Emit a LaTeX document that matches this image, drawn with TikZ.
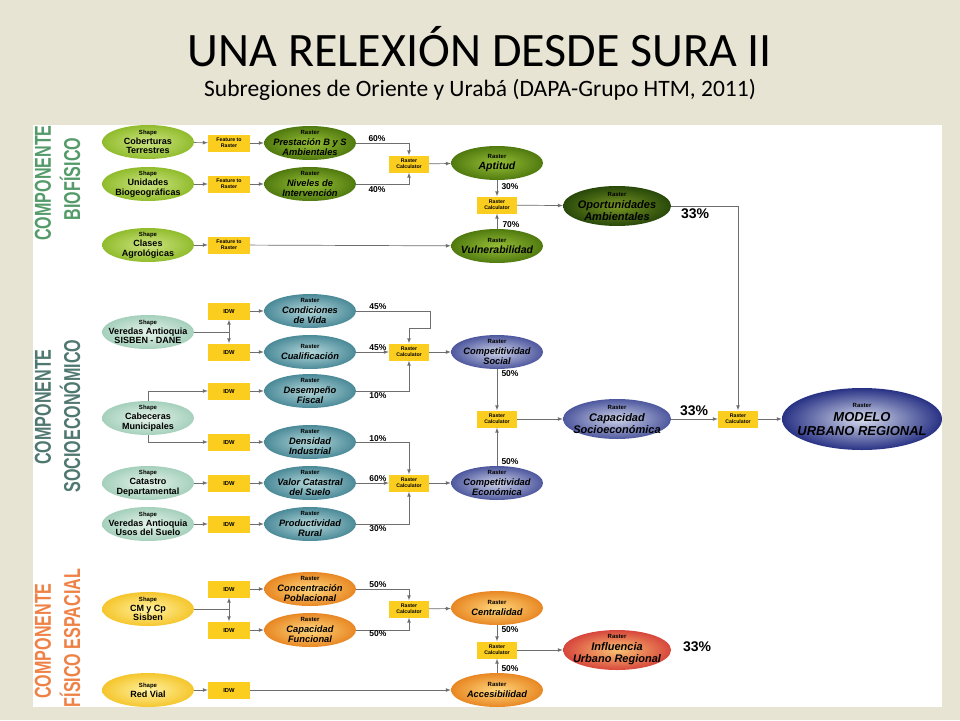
\documentclass[tikz,border=0pt]{standalone}
\usepackage{fontspec}
\setmainfont{Liberation Sans}
\newfontfamily\titlefont{Carlito}
\newfontfamily\narrowfont[FakeStretch=0.7]{Liberation Sans}
\usepackage{tikz}
\usetikzlibrary{positioning,arrows,shapes.geometric}

\definecolor{fondo}{RGB}{232,228,212}
\definecolor{caja}{RGB}{250,205,30}
\definecolor{linea}{RGB}{110,110,110}
\definecolor{bioTxt}{RGB}{85,155,105}
\definecolor{socTxt}{RGB}{80,120,112}
\definecolor{fisTxt}{RGB}{238,130,70}

\newcommand{\shp}[1]{{\fontsize{6}{6.5}\selectfont Shape}\\#1}
\newcommand{\ras}[1]{{\upshape\fontsize{6}{6.5}\selectfont Raster}\\#1}

\begin{document}
\begin{tikzpicture}[x=1pt,y=-1pt,
	oval/.style={ellipse,minimum width=92pt,minimum height=34pt,inner xsep=-20pt,inner ysep=-7pt,align=center,
		font=\bfseries\fontsize{9}{9.8}\selectfont},
	rfont/.style={font=\bfseries\itshape\fontsize{9.3}{10.2}\selectfont},
	gshp/.style={oval,shading=radial,inner color={rgb,255:red,205;green,228;blue,130},outer color={rgb,255:red,145;green,188;blue,45}},
	gras/.style={oval,rfont,shading=radial,inner color={rgb,255:red,150;green,190;blue,55},outer color={rgb,255:red,80;green,122;blue,15}},
	tshp/.style={oval,shading=radial,inner color={rgb,255:red,230;green,243;blue,234},outer color={rgb,255:red,165;green,208;blue,188}},
	tras/.style={oval,rfont,shading=radial,inner color={rgb,255:red,180;green,215;blue,218},outer color={rgb,255:red,75;green,138;blue,152}},
	bras/.style={oval,rfont,shading=radial,inner color={rgb,255:red,205;green,210;blue,232},outer color={rgb,255:red,78;green,88;blue,158}},
	oshp/.style={oval,shading=radial,inner color={rgb,255:red,255;green,242;blue,160},outer color={rgb,255:red,245;green,198;blue,45}},
	oras/.style={oval,rfont,shading=radial,inner color={rgb,255:red,255;green,215;blue,125},outer color={rgb,255:red,232;green,135;blue,35}},
	big/.style={minimum width=108pt,minimum height=40pt,font=\bfseries\itshape\fontsize{11}{12}\selectfont},
	calc/.style={rectangle,fill=caja,minimum width=40pt,minimum height=17pt,inner sep=0pt,align=center,
		font=\bfseries\fontsize{5.2}{5.8}\selectfont},
	idw/.style={calc,minimum width=42pt,font=\bfseries\fontsize{5.8}{6}\selectfont},
	con/.style={draw=linea,line width=0.7pt,-latex},
	lin/.style={draw=linea,line width=0.7pt},
	pct/.style={font=\bfseries\fontsize{8.5}{8.5}\selectfont},
	tres/.style={font=\bfseries\fontsize{14}{14}\selectfont},
	side/.style={rotate=90,font=\narrowfont\bfseries\fontsize{23}{23}\selectfont}]

% fondo y panel
\fill[fondo] (0,0) rectangle (960,720);
\fill[white] (33,125) rectangle (942,707);

% titulo
\node (titulo) at (480,47) {\titlefont\fontsize{48}{48}\selectfont UNA RELEXIÓN DESDE SURA II};
\node (subtitulo) at (480,90) {\titlefont\fontsize{23.5}{23.5}\selectfont Subregiones de Oriente y Urabá (DAPA-Grupo HTM, 2011)};

% componentes
\node[side,text=bioTxt] (cb1) at (43,183) {COMPONENTE};
\node[side,text=bioTxt] (cb2) at (70,179) {BIOFÍSICO};
\node[side,text=socTxt] (cs1) at (43,407) {COMPONENTE};
\node[side,text=socTxt] (cs2) at (70,416) {SOCIOECONÓMICO};
\node[side,text=fisTxt] (cf1) at (43,641) {COMPONENTE};
\node[side,text=fisTxt] (cf2) at (70,638) {FÍSICO ESPACIAL};

% ---- biofisico
\node[gshp] (cob) at (148,142) {\shp{Coberturas\\Terrestres}};
\node[gshp] (uni) at (148,184) {\shp{Unidades\\Biogeográficas}};
\node[gshp] (cla) at (148,245) {\shp{Clases\\Agrológicas}};
\node[calc,minimum width=42pt] (ftr1) at (229,143) {Feature to\\Raster};
\node[calc,minimum width=42pt] (ftr2) at (229,184) {Feature to\\Raster};
\node[calc,minimum width=42pt] (ftr3) at (229,245) {Feature to\\Raster};
\node[gras] (pre) at (310,143) {\ras{Prestación B y S\\Ambientales}};
\node[gras] (niv) at (310,184) {\ras{Niveles de\\Intervención}};
\node[calc] (rcb1) at (409,164) {Raster\\Calculator};
\node[gras,font=\bfseries\itshape\fontsize{10.5}{11.5}\selectfont] (apt) at (497,163) {\ras{Aptitud}};
\node[calc] (rcb2) at (497,205) {Raster\\Calculator};
\node[gras,font=\bfseries\itshape\fontsize{10.5}{11.5}\selectfont] (vul) at (497,246) {\ras{Vulnerabilidad}};
\node[gras,big,inner color={rgb,255:red,120;green,150;blue,35},outer color={rgb,255:red,40;green,72;blue,10}] (opo) at (617,206) {\ras{Oportunidades\\Ambientales}};

\draw[con] (cob) -- (ftr1);
\draw[con] (ftr1) -- (pre);
\draw[con] (uni) -- (ftr2);
\draw[con] (ftr2) -- (niv);
\draw[con] (cla) -- (ftr3);
\draw[con] (ftr3) -- (vul);
\draw[con] (pre.east) -| (rcb1.north);
\draw[con] (niv.east) -| (rcb1.south);
\draw[con] (rcb1) -- (apt);
\draw[con] (apt) -- (rcb2);
\draw[con] (vul) -- (rcb2);
\draw[con] (rcb2) -- (opo);
\node[pct] (p60a) at (377,139) {60\%};
\node[pct] (p40a) at (377,190) {40\%};
\node[pct] (p30a) at (510,187) {30\%};
\node[pct] (p70a) at (511,225) {70\%};
\node[tres] (t1) at (695,214) {33\%};

% ---- socioeconomico
\node[tshp] (vsi) at (148,332) {\shp{Veredas Antioquia\\SISBEN - DANE}};
\node[tshp] (cab) at (148,418) {\shp{Cabeceras\\Municipales}};
\node[tshp] (cat) at (148,483) {\shp{Catastro\\Departamental}};
\node[tshp] (vus) at (148,524) {\shp{Veredas Antioquia\\Usos del Suelo}};
\foreach \n/\y in {idw1/311,idw2/352,idw3/391,idw4/442,idw5/483,idw6/524}
	{\node[idw] (\n) at (229,\y) {IDW};}
\node[tras] (con) at (310,311) {\ras{Condiciones\\de Vida}};
\node[tras] (cua) at (310,352) {\ras{Cualificación}};
\node[tras] (des) at (310,391) {\ras{Desempeño\\Fiscal}};
\node[tras] (den) at (310,442) {\ras{Densidad\\Industrial}};
\node[tras] (val) at (310,483) {\ras{Valor Catastral\\del Suelo}};
\node[tras] (pro) at (310,524) {\ras{Productividad\\Rural}};
\node[calc] (rcs1) at (409,352) {Raster\\Calculator};
\node[calc] (rcs2) at (409,483) {Raster\\Calculator};
\node[bras] (cso) at (497,352) {\ras{Competitividad\\Social}};
\node[bras] (cec) at (497,483) {\ras{Competitividad\\Económica}};
\node[calc] (rcs3) at (497,419) {Raster\\Calculator};
\node[bras,big] (csc) at (617,419) {\ras{Capacidad\\Socioeconómica}};

\coordinate (j1) at (229,332);
\draw[lin] (vsi.east) -- (j1);
\draw[con] (j1) -- (idw1);
\draw[con] (j1) -- (idw2);
\draw[con] (cab.north) |- (idw3);
\draw[con] (cab.south) |- (idw4);
\draw[con] (cat) -- (idw5);
\draw[con] (vus) -- (idw6);
\foreach \a/\b in {idw1/con,idw2/cua,idw3/des,idw4/den,idw5/val,idw6/pro}
	{\draw[con] (\a) -- (\b);}
\coordinate (k1) at (430,328);
\draw[con] (con.east) -| (k1) -| (rcs1.north);
\draw[con] (cua) -- (rcs1);
\draw[con] (des.east) -| (rcs1.south);
\draw[con] (den.east) -| (rcs2.north);
\draw[con] (val) -- (rcs2);
\draw[con] (pro.east) -| (rcs2.south);
\draw[con] (rcs1) -- (cso);
\draw[con] (rcs2) -- (cec);
\draw[con] (cso) -- (rcs3);
\draw[con] (cec) -- (rcs3);
\draw[con] (rcs3) -- (csc);
\node[pct] (p45a) at (378,307) {45\%};
\node[pct] (p45b) at (378,348) {45\%};
\node[pct] (p10a) at (378,396) {10\%};
\node[pct] (p10b) at (378,439) {10\%};
\node[pct] (p60b) at (378,479) {60\%};
\node[pct] (p30b) at (378,529) {30\%};
\node[pct] (p50a) at (510,374) {50\%};
\node[pct] (p50b) at (510,462) {50\%};
\node[tres] (t2) at (694,411) {33\%};

% modelo final
\node[calc] (rcf) at (738,419) {Raster\\Calculator};
\node[bras,minimum width=160pt,minimum height=62pt,font=\bfseries\itshape\fontsize{13}{14}\selectfont,
	inner color={rgb,255:red,215;green,220;blue,238},outer color={rgb,255:red,40;green,50;blue,132}] (mod) at (862,419)
	{\ras{MODELO\\URBANO REGIONAL}};
\draw[con] (opo.east) -| (rcf.north);
\draw[con] (csc) -- (rcf);
\draw[con] (rcf) -- (mod);

% ---- fisico espacial
\node[oshp] (cmc) at (148,609) {\shp{CM y Cp\\Sisben}};
\node[oshp] (red) at (148,690) {\shp{Red Vial}};
\node[idw] (idw7) at (229,589) {IDW};
\node[idw] (idw8) at (229,630) {IDW};
\node[idw] (idw9) at (229,690) {IDW};
\node[oras] (cpo) at (310,589) {\ras{Concentración\\Poblacional}};
\node[oras] (cfu) at (310,630) {\ras{Capacidad\\Funcional}};
\node[calc] (rcf1) at (409,609) {Raster\\Calculator};
\node[oras] (cen) at (497,608) {\ras{Centralidad}};
\node[calc] (rcf2) at (497,650) {Raster\\Calculator};
\node[oras] (acc) at (497,690) {\ras{Accesibilidad}};
\node[oras,big,inner color={rgb,255:red,250;green,195;blue,115},outer color={rgb,255:red,215;green,70;blue,60}] (inf) at (617,650) {\ras{Influencia\\Urbano Regional}};

\coordinate (j2) at (229,609);
\draw[lin] (cmc.east) -- (j2);
\draw[con] (j2) -- (idw7);
\draw[con] (j2) -- (idw8);
\draw[con] (idw7) -- (cpo);
\draw[con] (idw8) -- (cfu);
\draw[con] (red) -- (idw9);
\draw[con] (idw9) -- (acc);
\draw[con] (cpo.east) -| (rcf1.north);
\draw[con] (cfu.east) -| (rcf1.south);
\draw[con] (rcf1) -- (cen);
\draw[con] (cen) -- (rcf2);
\draw[con] (acc) -- (rcf2);
\draw[con] (rcf2) -- (inf);
\node[pct] (p50c) at (378,585) {50\%};
\node[pct] (p50d) at (378,634) {50\%};
\node[pct] (p50e) at (510,630) {50\%};
\node[pct] (p50f) at (510,669) {50\%};
\node[tres] (t3) at (697,647) {33\%};

\end{tikzpicture}
\end{document}
